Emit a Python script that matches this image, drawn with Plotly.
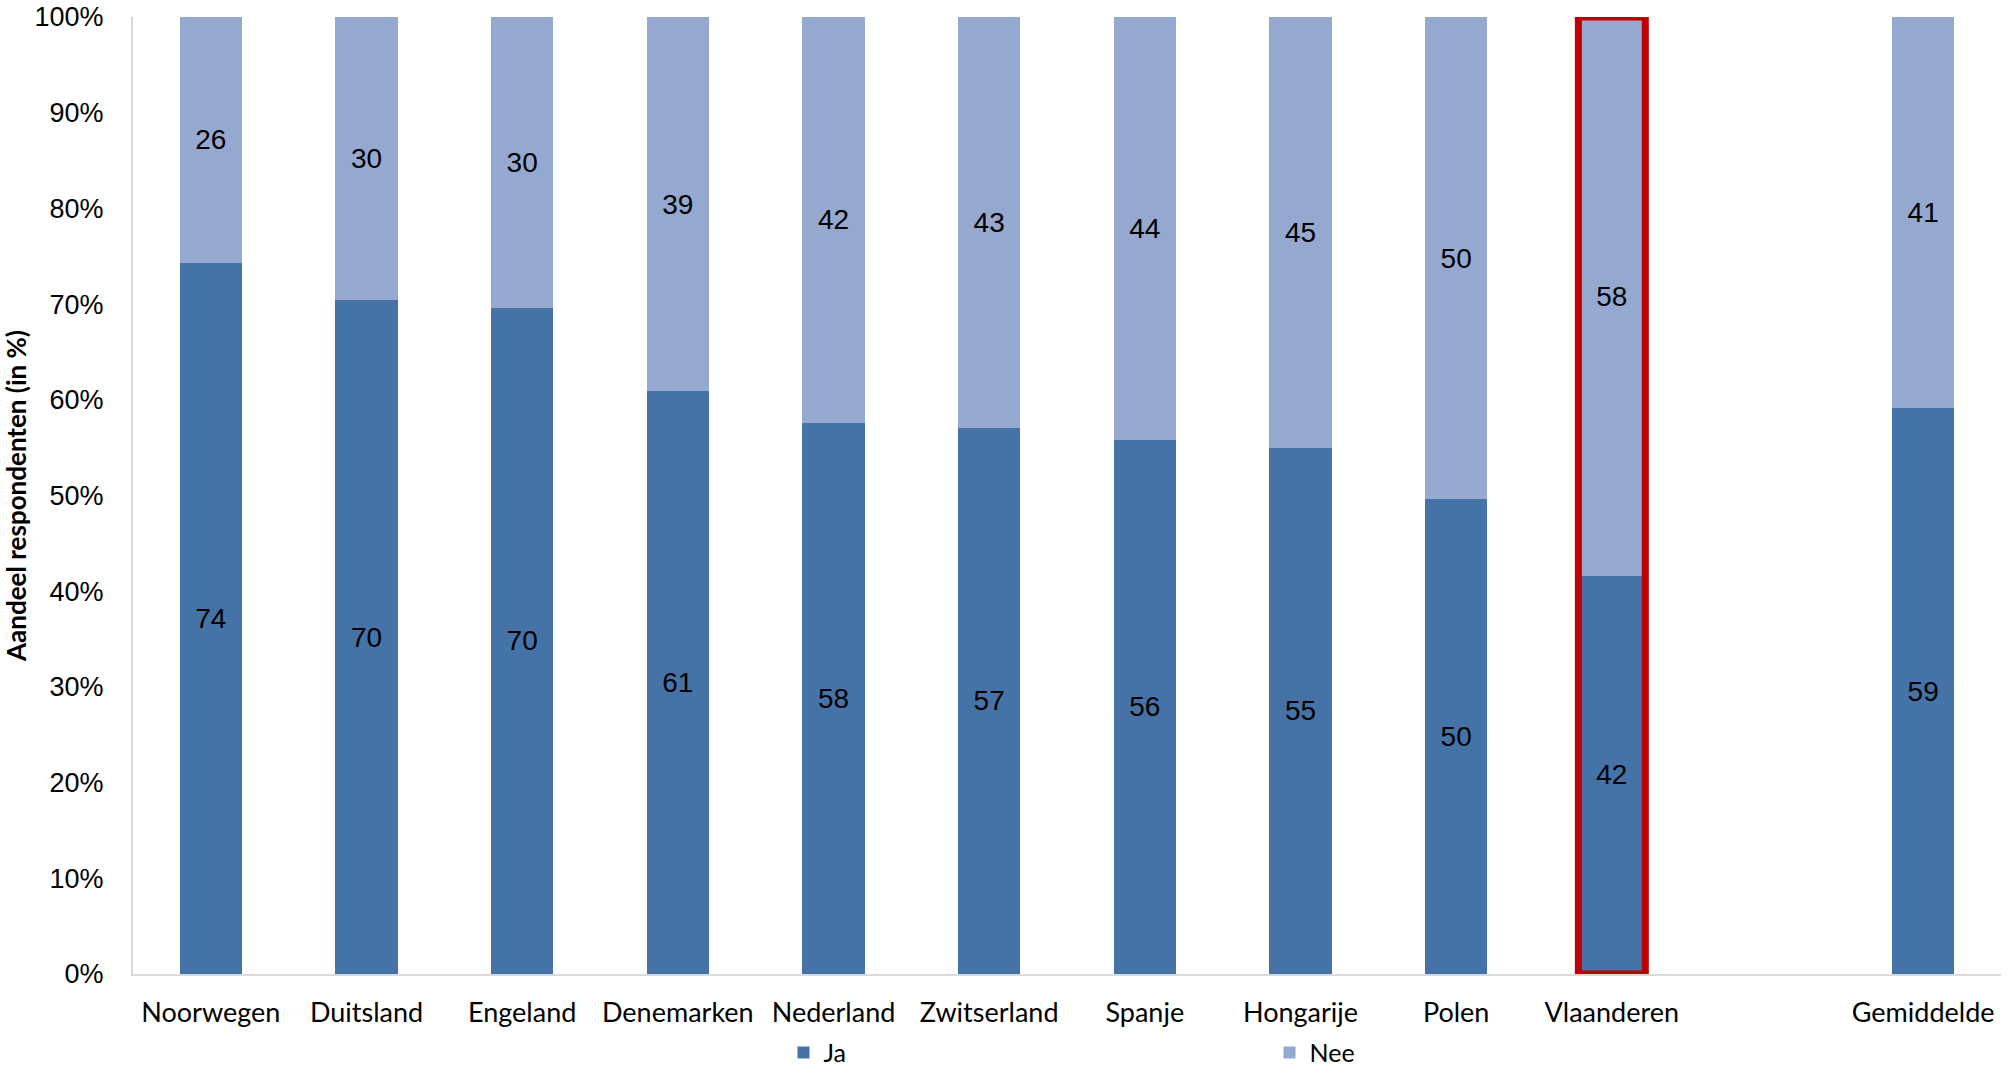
import plotly.graph_objects as go

categories = ["Noorwegen", "Duitsland", "Engeland", "Denemarken", "Nederland", "Zwitserland",
              "Spanje", "Hongarije", "Polen", "Vlaanderen", "Gemiddelde"]
positions = [0, 1, 2, 3, 4, 5, 6, 7, 8, 9, 11]
ja = [74.3, 70.4, 69.6, 60.9, 57.6, 57.1, 55.8, 55.0, 49.6, 41.6, 59.1]
nee = [25.7, 29.6, 30.4, 39.1, 42.4, 42.9, 44.2, 45.0, 50.4, 58.4, 40.9]
y_ticks = [0, 10, 20, 30, 40, 50, 60, 70, 80, 90, 100]
y_tick_labels = ["0%", "10%", "20%", "30%", "40%", "50%", "60%", "70%", "80%", "90%", "100%"]
highlight = "Vlaanderen"

DARK = "#4573A7"
LIGHT = "#95A9D0"
RED = "#C00000"
NUM_FONT = "Liberation Sans, Arial, sans-serif"
TXT_FONT = "Lato, sans-serif"

fig = go.Figure()
fig.add_trace(go.Bar(x=positions, y=ja, name="Ja", marker=dict(color=DARK, line=dict(width=0)),
                     width=0.4, texttemplate="%{y:.0f}", textposition="inside",
                     insidetextanchor="middle",
                     textfont=dict(family=NUM_FONT, size=28, color="black")))
fig.add_trace(go.Bar(x=positions, y=nee, name="Nee", marker=dict(color=LIGHT, line=dict(width=0)),
                     width=0.4, texttemplate="%{y:.0f}", textposition="inside",
                     insidetextanchor="middle",
                     textfont=dict(family=NUM_FONT, size=28, color="black")))

hx = positions[categories.index(highlight)]
fig.add_shape(type="rect", xref="x", yref="y", x0=hx - 0.215, x1=hx + 0.215, y0=0, y1=100,
              line=dict(color=RED, width=7), fillcolor="rgba(0,0,0,0)", layer="above")

fig.update_layout(
    barmode="stack",
    width=2009, height=1076,
    margin=dict(l=133, r=8, t=17, b=102, autoexpand=False),
    plot_bgcolor="white", paper_bgcolor="white",
    xaxis=dict(range=[-0.5, 11.5], tickvals=positions, ticktext=categories, automargin=False,
               showgrid=False, zeroline=False, showline=True, linecolor="#D9D9D9", linewidth=2,
               ticks="", ticklabelstandoff=14,
               tickfont=dict(family=TXT_FONT, size=27, color="black")),
    yaxis=dict(range=[0, 100], tickvals=y_ticks, ticktext=y_tick_labels, automargin=False,
               showgrid=False, zeroline=False, showline=True, linecolor="#D9D9D9", linewidth=2,
               ticks="", ticklabelstandoff=22,
               tickfont=dict(family=NUM_FONT, size=27, color="black"),
               title=dict(text="<b>Aandeel respondenten (in %)</b>", standoff=0,
                          font=dict(family=TXT_FONT, size=26, color="black"))),
    legend=dict(orientation="h", xref="container", x=0.39, xanchor="left",
                yref="container", y=0.043, yanchor="top",
                entrywidth=441, entrywidthmode="pixels",
                font=dict(family=TXT_FONT, size=25, color="black"), traceorder="normal"),
)

fig.write_html("out.html", config={"displayModeBar": False},
               post_script="document.body.style.margin='0';document.body.style.overflow='hidden';")
